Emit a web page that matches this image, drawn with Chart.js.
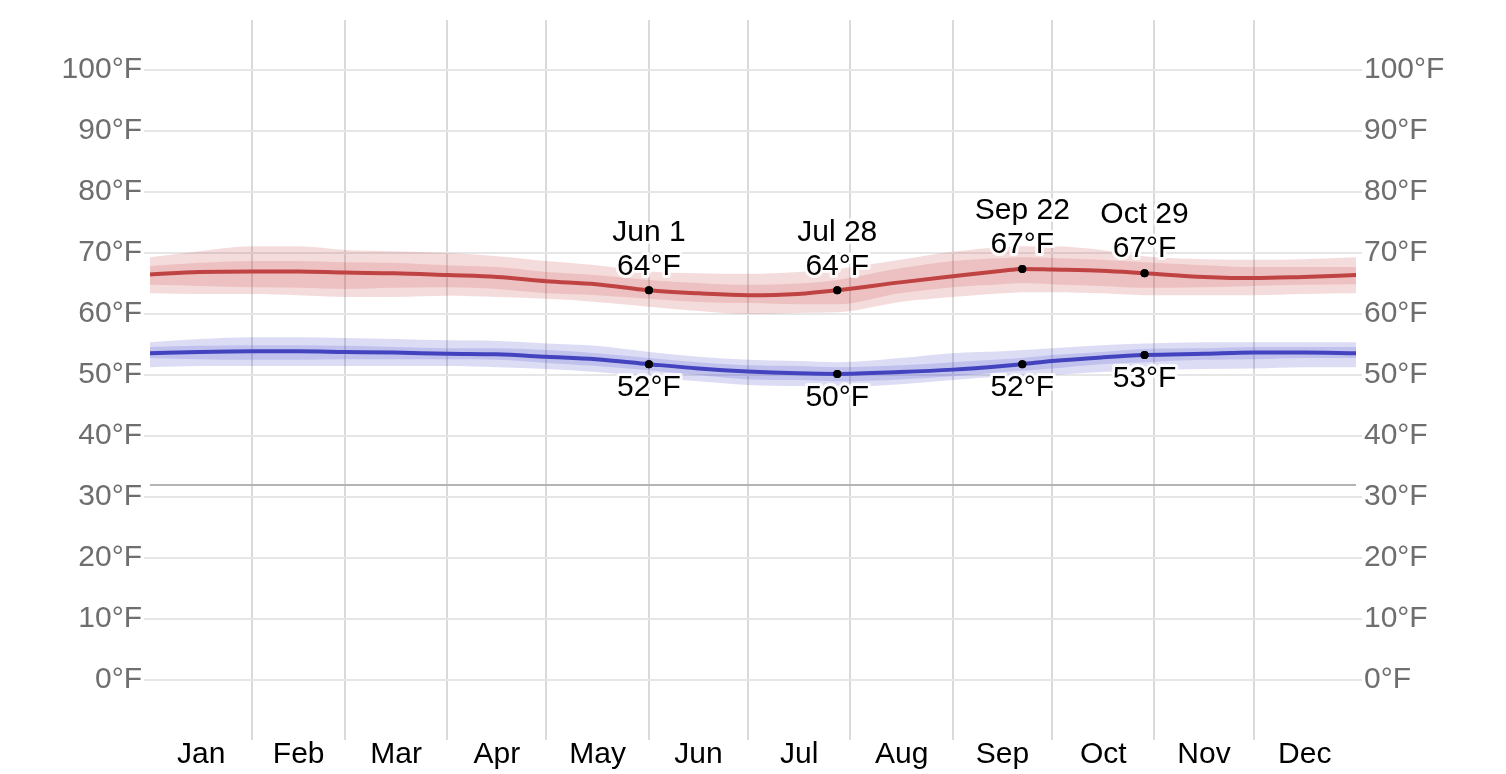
<!DOCTYPE html>
<html>
<head>
<meta charset="utf-8">
<script src="https://cdn.jsdelivr.net/npm/chart.js@4.4.0/dist/chart.umd.min.js"></script>
<style>
  body { margin: 0; background: #fff; }
  #wrap { width: 1506px; height: 774px; }
</style>
</head>
<body>
<div id="wrap"><canvas id="tempChart"></canvas></div>
<script>
// day of year for each sample
const days = [0, 15, 31, 45, 59, 74, 90, 105, 120, 135, 151, 166, 181, 196, 208, 227, 243, 258, 264, 273, 288, 301, 319, 334, 349, 365];

// average daily high, with 25-75 and 10-90 percentile bands
const highAvg = [66.5, 66.9, 67.0, 67.0, 66.8, 66.7, 66.4, 66.1, 65.4, 64.9, 63.9, 63.4, 63.1, 63.3, 63.9, 65.2, 66.2, 67.1, 67.4, 67.3, 67.1, 66.7, 66.1, 65.9, 66.1, 66.4];
const highP90 = [69.3, 70.3, 71.1, 71.1, 70.5, 70.3, 70.0, 69.5, 68.7, 68.0, 67.0, 66.7, 66.6, 66.9, 67.4, 68.9, 70.2, 71.0, 71.1, 71.1, 70.5, 69.5, 69.0, 68.9, 69.0, 69.3];
const highP75 = [67.9, 68.4, 68.7, 68.7, 68.5, 68.4, 68.0, 67.7, 66.9, 66.4, 65.6, 65.1, 64.8, 65.0, 65.6, 67.5, 68.7, 69.2, 69.3, 69.2, 68.9, 68.5, 68.0, 67.7, 67.7, 67.7];
const highP25 = [64.8, 64.6, 64.4, 64.3, 64.1, 64.3, 64.4, 64.1, 63.4, 63.1, 62.5, 62.0, 61.8, 61.6, 61.6, 63.4, 64.4, 64.9, 65.1, 64.9, 64.6, 64.3, 64.4, 64.6, 64.8, 64.9];
const highP10 = [63.4, 63.3, 63.3, 63.1, 62.8, 62.8, 63.0, 62.8, 62.5, 62.0, 61.2, 60.5, 60.0, 60.2, 60.3, 62.0, 62.8, 63.4, 63.6, 63.6, 63.4, 63.1, 63.1, 63.1, 63.3, 63.4];

// average daily low, same bands
const lowAvg = [53.6, 53.8, 53.9, 53.9, 53.8, 53.7, 53.5, 53.4, 53.0, 52.6, 51.8, 51.1, 50.6, 50.3, 50.2, 50.5, 50.9, 51.5, 51.8, 52.3, 52.9, 53.3, 53.5, 53.7, 53.7, 53.6];
const lowP90 = [55.4, 55.9, 56.2, 56.2, 56.1, 55.9, 55.7, 55.6, 55.2, 54.8, 53.8, 53.0, 52.5, 52.3, 52.1, 52.8, 53.6, 53.9, 54.1, 54.4, 54.9, 55.2, 55.4, 55.4, 55.4, 55.4];
const lowP75 = [54.6, 54.8, 54.9, 54.9, 54.8, 54.6, 54.4, 54.4, 54.1, 53.6, 52.8, 52.1, 51.6, 51.5, 51.3, 51.6, 52.1, 52.6, 52.8, 53.3, 53.8, 54.3, 54.4, 54.6, 54.6, 54.6];
const lowP25 = [52.8, 52.6, 52.5, 52.5, 52.6, 52.6, 52.6, 52.5, 52.0, 51.5, 50.8, 50.0, 49.3, 49.2, 49.0, 49.3, 49.8, 50.5, 50.7, 51.1, 51.8, 52.1, 52.5, 52.6, 52.8, 52.8];
const lowP10 = [51.3, 51.5, 51.5, 51.5, 51.5, 51.5, 51.5, 51.3, 51.0, 50.5, 49.7, 49.0, 48.4, 48.2, 48.0, 48.5, 49.2, 49.7, 49.7, 50.0, 50.5, 50.8, 51.0, 51.1, 51.3, 51.3];

const monthNames = ['Jan', 'Feb', 'Mar', 'Apr', 'May', 'Jun', 'Jul', 'Aug', 'Sep', 'Oct', 'Nov', 'Dec'];
const monthStarts = [0, 31, 59, 90, 120, 151, 181, 212, 243, 273, 304, 334, 365];
const yTicks = [0, 10, 20, 30, 40, 50, 60, 70, 80, 90, 100];
const freezing = 32;

// labelled days
const markDays = [151, 208, 264, 301];
const markNames = ['Jun 1', 'Jul 28', 'Sep 22', 'Oct 29'];

const pts = arr => days.map((d, i) => ({ x: d, y: arr[i] }));
const markHigh = markDays.map(d => highAvg[days.indexOf(d)]);
const markLow = markDays.map(d => lowAvg[days.indexOf(d)]);
const markPts = markDays.map((d, i) => ({ x: d, y: markHigh[i] }))
  .concat(markDays.map((d, i) => ({ x: d, y: markLow[i] })));

const monthMids = monthNames.map((m, i) => (monthStarts[i] + monthStarts[i + 1]) / 2);
const boundaries = monthStarts.slice(1, -1);

const FONT = '"Liberation Sans", Arial, sans-serif';
const FS = 30;

const band = (data, fillTo, color) => ({
  data: pts(data), fill: fillTo, backgroundColor: color, borderWidth: 0,
  pointRadius: 0, cubicInterpolationMode: 'monotone'
});
const edge = data => ({
  data: pts(data), fill: false, borderWidth: 0, pointRadius: 0, cubicInterpolationMode: 'monotone'
});

function halo(ctx, text, x, y) {
  ctx.strokeStyle = 'rgba(255,255,255,0.85)';
  ctx.lineWidth = 6;
  ctx.strokeText(text, x, y);
  ctx.fillStyle = '#000';
  ctx.fillText(text, x, y);
}

const labelPlugin = {
  id: 'pointLabels',
  afterDatasetsDraw(chart) {
    const { ctx, scales: { x, y } } = chart;
    ctx.save();
    ctx.font = FS + 'px ' + FONT;
    ctx.textAlign = 'center';
    ctx.textBaseline = 'middle';
    ctx.lineJoin = 'round';
    markDays.forEach((d, i) => {
      const px = x.getPixelForValue(d);
      const hy = y.getPixelForValue(markHigh[i]);
      const ly = y.getPixelForValue(markLow[i]);
      halo(ctx, markNames[i], px, hy - 58);
      halo(ctx, Math.round(markHigh[i]) + '°F', px, hy - 24);
      halo(ctx, Math.round(markLow[i]) + '°F', px, ly + 24);
    });
    // redraw dots above the halos
    ctx.fillStyle = '#000';
    markPts.forEach(p => {
      ctx.beginPath();
      ctx.arc(x.getPixelForValue(p.x), y.getPixelForValue(p.y), 4, 0, Math.PI * 2);
      ctx.fill();
    });
    ctx.restore();
  }
};

const chartElement = document.getElementById('tempChart');
new Chart(chartElement, {
  type: 'line',
  data: {
    datasets: [
      { data: markPts, showLine: false, pointRadius: 4, pointBackgroundColor: '#000', pointBorderWidth: 0 },
      { data: pts(highAvg), borderColor: '#c04343', borderWidth: 4, pointRadius: 0, fill: false, cubicInterpolationMode: 'monotone' },
      { data: pts(lowAvg), borderColor: '#4343c0', borderWidth: 4, pointRadius: 0, fill: false, cubicInterpolationMode: 'monotone' },
      band(highP75, 4, 'rgba(200,60,60,0.17)'),
      edge(highP25),
      band(highP90, 6, 'rgba(200,60,60,0.18)'),
      edge(highP10),
      band(lowP75, 8, 'rgba(60,60,200,0.17)'),
      edge(lowP25),
      band(lowP90, 10, 'rgba(60,60,200,0.18)'),
      edge(lowP10),
      { data: [{ x: 0, y: freezing }, { x: 365, y: freezing }], borderColor: '#b4b4b4', borderWidth: 2, pointRadius: 0, fill: false }
    ]
  },
  options: {
    responsive: true,
    maintainAspectRatio: false,
    animation: false,
    layout: { padding: { top: 20, left: 0, right: 0, bottom: 0 } },
    plugins: { legend: { display: false }, tooltip: { enabled: false } },
    scales: {
      x: {
        type: 'linear',
        min: 0,
        max: 365,
        afterBuildTicks: s => { s.ticks = boundaries.concat(monthMids).sort((a, b) => a - b).map(v => ({ value: v })); },
        afterFit: s => { s.height = 34; },
        border: { display: false },
        grid: {
          drawTicks: false,
          lineWidth: 2,
          color: c => (c.tick && boundaries.includes(c.tick.value)) ? '#dadada' : 'rgba(0,0,0,0)'
        },
        ticks: {
          autoSkip: false,
          maxRotation: 0,
          padding: -3,
          color: '#000',
          font: { size: FS, family: FONT },
          callback: v => { const i = monthMids.indexOf(v); return i >= 0 ? monthNames[i] : ''; }
        }
      },
      y: {
        position: 'left',
        min: -9.8,
        max: 108.2,
        afterBuildTicks: s => { s.ticks = yTicks.map(v => ({ value: v })); },
        afterFit: s => { s.width = 150; },
        border: { display: false },
        grid: { color: '#e6e6e6', lineWidth: 2, tickLength: 6 },
        ticks: { padding: 2, color: '#6e6e6e', font: { size: FS, family: FONT }, callback: v => v + '°F' }
      },
      y2: {
        position: 'right',
        min: -9.8,
        max: 108.2,
        afterBuildTicks: s => { s.ticks = yTicks.map(v => ({ value: v })); },
        afterFit: s => { s.width = 150; },
        border: { display: false },
        grid: { drawOnChartArea: false, color: '#e6e6e6', lineWidth: 2, tickLength: 6 },
        ticks: { padding: 2, color: '#6e6e6e', font: { size: FS, family: FONT }, callback: v => v + '°F' }
      }
    }
  },
  plugins: [labelPlugin]
});
</script>
</body>
</html>
